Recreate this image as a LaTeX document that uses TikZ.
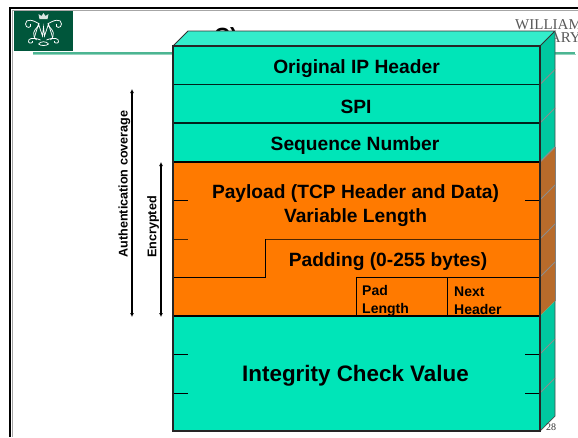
\documentclass[tikz,border=0pt]{standalone}
\usepackage{fontspec}
\setmainfont{Liberation Sans}
\newfontfamily\serifface{Liberation Serif}
\usetikzlibrary{arrows.meta}
\definecolor{teal}{HTML}{00E5B8}
\definecolor{tealtop}{HTML}{33EDCB}
\definecolor{tealside}{HTML}{00C8A0}
\definecolor{orng}{HTML}{FF7A00}
\definecolor{orngside}{HTML}{B86B2B}
\definecolor{logogreen}{HTML}{00563B}
\definecolor{rulegreen}{HTML}{4CB592}
\tikzset{
  lab/.style={font=\bfseries\fontsize{19.2}{21}\selectfont,inner sep=0pt,text=black},
  small/.style={font=\bfseries\fontsize{14}{18}\selectfont,inner sep=0pt,align=left,anchor=west},
  side/.style={font=\bfseries\fontsize{12.6}{14}\selectfont,inner sep=0pt,rotate=90},
  span/.style={line width=1.4pt,{Latex[length=4pt,width=4pt]}-{Latex[length=4pt,width=4pt]}},
  row/.style={line width=1.1pt,draw=black!85!teal},
  tick/.style={line width=0.8pt,draw=black},
  facet/.style={line width=0.8pt,draw=gray!90},
  mono/.style={draw=white,line width=0.75pt,fill=none},
  wm/.style={font=\serifface\fontsize{15}{15}\selectfont,text=black!65,inner sep=0pt}
}
\begin{document}
\begin{tikzpicture}[x=1pt,y=-1pt]
\useasboundingbox (0,0) rectangle (578,437);
\fill[white] (0,0) rectangle (578,437);
% slide frame
\draw[gray!70,line width=0.6pt] (12,10) -- (578,10);
\draw[gray!70,line width=0.6pt] (12,10) -- (12,437);
\draw[black,line width=1.8pt] (9,8) -- (578,8);
\draw[black,line width=1.8pt] (10,8) -- (10,437);
% logo
\fill[logogreen] (14,11) rectangle (73,51);
\begin{scope}[shift={(43.5,30)}]
  \fill[white!85!logogreen] (-4,-11) -- (-5,-16) -- (-2,-14) -- (0,-17) -- (2,-14) -- (5,-16) -- (4,-11) -- cycle;
  \draw[mono] (-9,7) -- (-5,-6) -- (-1,6) -- (0,-3) -- (1,6) -- (5,-6) -- (9,7);
  \draw[mono] (-4,-6) .. controls (-10,-10) and (-18,-12) .. (-18,-6) .. controls (-18,-1) and (-11,-2) .. (-13,-6);
  \draw[mono] (4,-6) .. controls (10,-10) and (18,-12) .. (18,-6) .. controls (18,-1) and (11,-2) .. (13,-6);
  \draw[mono] (-5,-4) .. controls (-10,0) and (-12,5) .. (-7,10);
  \draw[mono] (5,-4) .. controls (10,0) and (12,5) .. (7,10);
  \draw[mono] (-3,10) .. controls (-10,7) and (-16,8) .. (-15,12) .. controls (-14,14) and (-10,13) .. (-11,11);
  \draw[mono] (3,10) .. controls (10,7) and (16,8) .. (15,12) .. controls (14,14) and (10,13) .. (11,11);
  \draw[mono] (-5,14) .. controls (-3,11) and (3,11) .. (5,14) .. controls (3,16) and (-3,16) .. (-5,14);
\end{scope}
% header items hidden in part by the box
\draw[rulegreen!60!white,line width=1pt] (33,54.2) -- (576,54.2);
\draw[rulegreen,line width=1.8pt] (33,53) -- (575,53);
\node[anchor=base west,inner sep=0pt,font=\bfseries\fontsize{22}{24}\selectfont] (title) at (214,43) {C)};
\node[wm,anchor=base west] (wmA) at (515,29) {WILLIAM};
\node[wm,anchor=base east] (wmB) at (581,42.5) {MARY};
% box: top and side
\fill[tealtop] (173,46) -- (188,31) -- (555,31) -- (540,46) -- cycle;
\fill[tealside] (540,46) -- (555,31) -- (555,147) -- (540,162) -- cycle;
\fill[orngside] (540,162) -- (555,147) -- (555,301) -- (540,316) -- cycle;
\fill[tealside] (540,316) -- (555,301) -- (555,416) -- (540,431) -- cycle;
% box: front
\fill[teal] (173,46) rectangle (540,162);
\fill[orng] (173,162) rectangle (540,316);
\fill[teal] (173,316) rectangle (540,431);
% side facets
\foreach \yy in {84.5,123,200,239,277,354,393}
  \draw[facet] (540,\yy) -- (555,\yy-15);
\draw[facet,line width=1.2pt] (540,162) -- (555,147);
\draw[gray,line width=1pt] (555,147) -- (555,301);
% outlines
\draw[black!80,line width=0.9pt] (173,46) -- (188,31) -- (555,31) -- (540,46);
\draw[black!70,line width=0.7pt] (555,31) -- (555,147) (555,301) -- (555,416) -- (540,431);
\draw[row] (173,84.5) -- (540,84.5);
\draw[row] (173,123) -- (540,123);
\draw[black,line width=1.2pt] (173,162) -- (540,162);
\draw[black,line width=1.2pt] (173,316) -- (540,316);
\draw[black!70!orng,line width=1pt] (173,239) -- (188,239);
\draw[black!70!orng,line width=1pt] (265,239) -- (540,239);
\draw[tick] (173,277) -- (265,277) -- (265,239);
\draw[tick] (356,277) -- (540,277);
\draw[tick] (356,277) -- (356,316);
\draw[tick] (447,277) -- (447,316);
\foreach \yy in {200,354,393} {
  \draw[tick] (173,\yy) -- (188,\yy);
  \draw[tick] (525,\yy) -- (540,\yy);
}
\draw[black!85,line width=1.1pt] (173,46) rectangle (540,431);
% labels
\node[lab] (ip) at (356.5,68.5) {Original IP Header};
\node[lab] (spi) at (356,106.5) {SPI};
\node[lab] (seq) at (355,145.5) {Sequence Number};
\node[lab,align=center,font=\bfseries\fontsize{19.2}{24}\selectfont] (pay) at (355.5,206) {Payload (TCP Header and Data)\\Variable Length};
\node[lab] (pad) at (388,262) {Padding (0-255 bytes)};
\node[small] (padlen) at (362,300.5) {Pad\\Length};
\node[small] (next) at (454,300.5) {Next\\Header};
\node[lab,font=\bfseries\fontsize{22.4}{24}\selectfont] (icv) at (355.5,375.5) {Integrity Check Value};
\node[side] (auth) at (124.5,184) {Authentication coverage};
\node[side] (enc) at (153,227) {Encrypted};
% spans
\coordinate (a1) at (132,89);
\coordinate (a2) at (132,317);
\coordinate (e1) at (161,162);
\coordinate (e2) at (161,317);
\draw[span] (a1) -- (a2);
\draw[span] (e1) -- (e2);
\node[font=\serifface\fontsize{10}{10}\selectfont,inner sep=0pt,text=black!80] (page) at (551,427) {28};
\end{tikzpicture}
\end{document}
